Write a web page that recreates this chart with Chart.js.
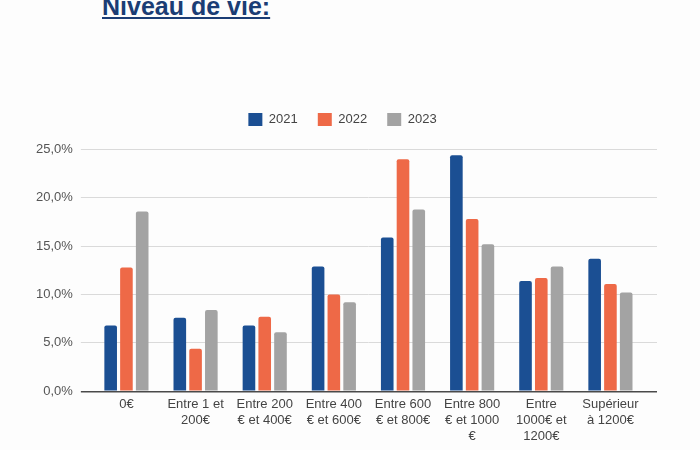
<!DOCTYPE html>
<html lang="fr">
<head>
  <meta charset="UTF-8" />
  <title>Niveau de vie</title>
  <script src="https://cdn.jsdelivr.net/npm/chart.js"></script>
  <style>
    body {
      margin: 0;
      background: #fdfdfd;
      font-family: "Liberation Sans", Arial, sans-serif;
    }
    .titre {
      position: absolute;
      left: 102px;
      top: -6px;
      margin: 0;
      font-size: 25px;
      line-height: 25px;
      font-weight: bold;
      color: #1b3d75;
      text-decoration: underline;
      text-decoration-thickness: 2px;
      text-underline-offset: 2px;
    }
    .zone {
      position: absolute;
      left: 0;
      top: 0;
      width: 700px;
      height: 450px;
    }
  </style>
</head>
<body>
  <div class="titre">Niveau de vie:</div>
  <div class="zone">
    <canvas id="graph"></canvas>
  </div>

  <script>
    // Données
    const categories = [
      '0€',
      ['Entre 1 et', '200€'],
      ['Entre 200', '€ et 400€'],
      ['Entre 400', '€ et 600€'],
      ['Entre 600', '€ et 800€'],
      ['Entre 800', '€ et 1000', '€'],
      ['Entre', '1000€ et', '1200€'],
      ['Supérieur', 'à 1200€']
    ];
    const annees = ['2021', '2022', '2023'];
    const valeurs2021 = [6.8, 7.6, 6.8, 12.9, 15.9, 24.4, 11.4, 13.7];
    const valeurs2022 = [12.8, 4.4, 7.7, 10.0, 24.0, 17.8, 11.7, 11.1];
    const valeurs2023 = [18.6, 8.4, 6.1, 9.2, 18.8, 15.2, 12.9, 10.2];
    const etiquettesY = ['0,0%', '5,0%', '10,0%', '15,0%', '20,0%', '25,0%'];

    const couleurs = ['#1b4f93', '#ee6947', '#a3a3a3'];
    const series = [valeurs2021, valeurs2022, valeurs2023];

    const ctx = document.getElementById('graph').getContext('2d');
    Chart.defaults.font.family = '"Liberation Sans", Arial, sans-serif';

    new Chart(ctx, {
      type: 'bar',
      data: {
        labels: categories,
        datasets: series.map((s, i) => ({
          label: annees[i],
          data: s,
          backgroundColor: couleurs[i],
          borderWidth: 0,
          borderRadius: { topLeft: 2, topRight: 2 },
          borderSkipped: 'bottom',
          categoryPercentage: 0.684,
          barPercentage: 0.8
        }))
      },
      options: {
        responsive: true,
        maintainAspectRatio: false,
        animation: false,
        layout: {
          padding: { left: 28, right: 43, top: 93, bottom: 0 }
        },
        plugins: {
          tooltip: { enabled: false },
          legend: {
            position: 'top',
            labels: {
              boxWidth: 14,
              boxHeight: 13,
              padding: 20,
              color: '#444',
              font: { size: 13 }
            }
          },
          // espace vide entre la légende et le graphique
          title: {
            display: true,
            text: '',
            weight: 500,
            font: { size: 1, lineHeight: 1 },
            padding: { top: 0, bottom: 12.5 }
          }
        },
        scales: {
          x: {
            grid: { display: false, drawTicks: false },
            border: { display: false },
            ticks: {
              color: '#444',
              font: { size: 13, lineHeight: 1.25 },
              padding: 5,
              maxRotation: 0,
              autoSkip: false
            }
          },
          y: {
            min: 0,
            max: 25,
            border: { display: false },
            grid: {
              color: c => c.tick.value === 0 ? '#4a4a4a' : '#dadada',
              lineWidth: c => c.tick.value === 0 ? 1.5 : 1,
              drawTicks: true,
              tickLength: 11
            },
            ticks: {
              stepSize: 5,
              padding: 8,
              color: '#555',
              font: { size: 13 },
              callback: (v, i) => etiquettesY[i]
            }
          },
          y2: {
            position: 'right',
            min: 0,
            max: 25,
            border: { display: false },
            grid: {
              drawOnChartArea: false,
              color: c => c.tick.value === 0 ? '#4a4a4a' : '#dadada',
              lineWidth: c => c.tick.value === 0 ? 1.5 : 1,
              tickLength: 12
            },
            ticks: { stepSize: 5, display: false }
          }
        }
      }
    });
  </script>
</body>
</html>
